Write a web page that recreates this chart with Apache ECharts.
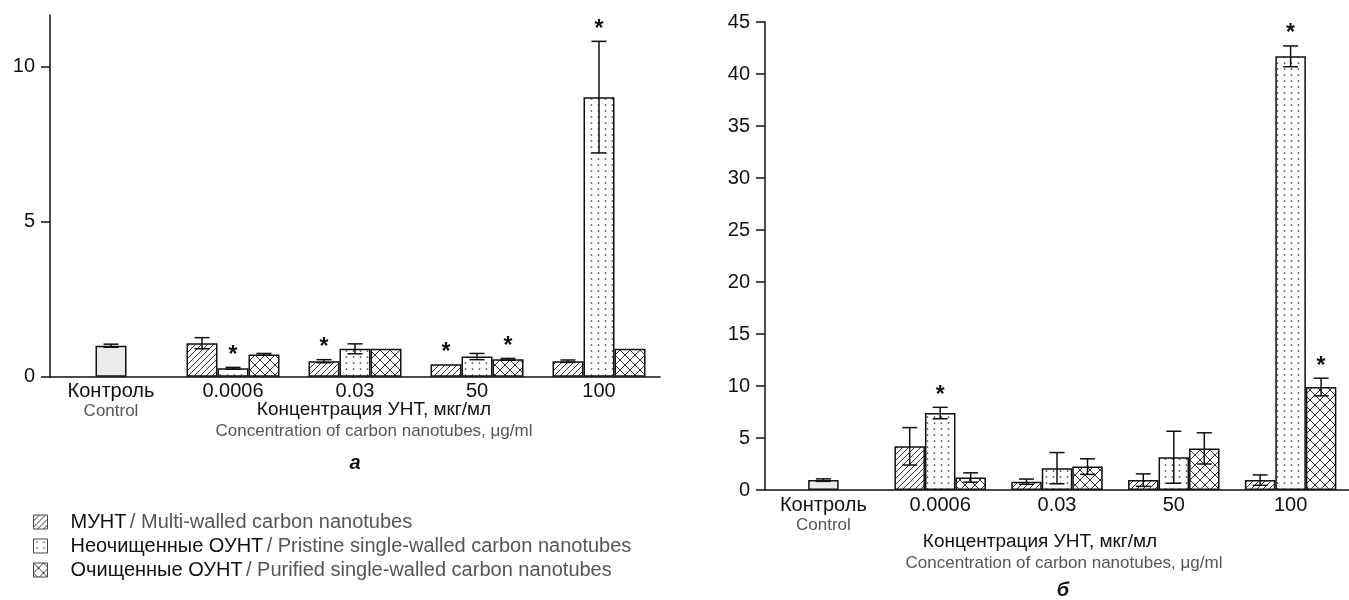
<!DOCTYPE html>
<html><head><meta charset="utf-8">
<script src="https://cdn.jsdelivr.net/npm/echarts@6/dist/echarts.min.js"></script>
<style>html,body{margin:0;padding:0;background:#fff}#c{width:1349px;height:600px}</style>
</head><body><div id="c"></div>
<script>
// ---------- DATA ----------
const categories = ['Контроль', '0.0006', '0.03', '50', '100'];
const seriesNames = [
  'МУНТ / Multi-walled carbon nanotubes',
  'Неочищенные ОУНТ / Pristine single-walled carbon nanotubes',
  'Очищенные ОУНТ / Purified single-walled carbon nanotubes'
];
const yTicksA = [0, 5, 10];
const yTicksB = [0, 5, 10, 15, 20, 25, 30, 35, 40, 45];

// Chart а
const controlA = 1.0, controlErrA = 0.05;
const mwcntA = [1.08, 0.5, 0.4, 0.5];
const mwcntErrA = [0.18, 0.05, 0.0, 0.04];
const pristineA = [0.27, 0.9, 0.65, 9.02];
const pristineErrA = [0.03, 0.16, 0.1, 1.8];
const purifiedA = [0.72, 0.9, 0.56, 0.9];
const purifiedErrA = [0.03, 0.0, 0.03, 0.0];
const mwcntStarA = [0, 1, 1, 0];
const pristineStarA = [1, 0, 0, 1];
const purifiedStarA = [0, 0, 1, 0];

// Chart б
const controlB = 0.95, controlErrB = 0.12;
const mwcntB = [4.2, 0.8, 0.95, 0.95];
const mwcntErrB = [1.8, 0.25, 0.6, 0.5];
const pristineB = [7.4, 2.1, 3.15, 41.7];
const pristineErrB = [0.55, 1.5, 2.5, 1.0];
const purifiedB = [1.2, 2.25, 4.0, 9.9];
const purifiedErrB = [0.45, 0.75, 1.5, 0.85];
const mwcntStarB = [0, 0, 0, 0];
const pristineStarB = [1, 0, 0, 1];
const purifiedStarB = [0, 0, 0, 1];

// ---------- PATTERNS ----------
function makeCanvas(w, h, draw) {
  const c = document.createElement('canvas'); c.width = w; c.height = h;
  const g = c.getContext('2d'); g.fillStyle = '#fff'; g.fillRect(0, 0, w, h);
  draw(g); return c;
}
const hatchCanvas = makeCanvas(6, 6, g => {
  g.strokeStyle = '#333'; g.lineWidth = 1;
  g.beginPath(); g.moveTo(-1, 7); g.lineTo(7, -1);
  g.moveTo(-1, 1); g.lineTo(1, -1); g.moveTo(5, 7); g.lineTo(7, 5); g.stroke();
});
const dotCanvas = makeCanvas(7, 6, g => {
  g.fillStyle = '#333'; g.beginPath(); g.arc(3.5, 3, 0.85, 0, Math.PI * 2); g.fill();
});
const crossCanvas = makeCanvas(10, 10, g => {
  g.strokeStyle = '#333'; g.lineWidth = 1;
  g.beginPath();
  g.moveTo(-1, 11); g.lineTo(11, -1);
  g.moveTo(-1, -1); g.lineTo(11, 11);
  g.stroke();
});
const fills = [
  { image: hatchCanvas, repeat: 'repeat' },
  { image: dotCanvas, repeat: 'repeat' },
  { image: crossCanvas, repeat: 'repeat' }
];

const FONT = '"Liberation Sans", Arial, sans-serif';
const AX = '#111';

function barSeries(k, vals, ctrl, gi, barW) {
  const data = [k === 1 ? { value: ctrl, itemStyle: { color: '#ebebeb' } } : '-'].concat(vals);
  return {
    type: 'bar', name: seriesNames[k], xAxisIndex: gi, yAxisIndex: gi,
    data: data, barWidth: barW, barGap: '0%',
    itemStyle: { color: fills[k], borderColor: '#111', borderWidth: 1.5 },
    silent: true, z: 2
  };
}
function errData(ctrl, ctrlErr, vals, errs, stars) {
  const out = [[0, ctrl, ctrlErr, 1, 0]];
  for (let k = 0; k < 3; k++) for (let i = 0; i < 4; i++) out.push([i + 1, vals[k][i], errs[k][i], k, stars[k][i]]);
  return out;
}
function errSeries(gi, barW, data) {
  return {
    type: 'custom', xAxisIndex: gi, yAxisIndex: gi, silent: true, z: 10, clip: false,
    data: data, encode: { x: 0, y: 1 },
    renderItem: function (params, api) {
      const cat = api.value(0), v = api.value(1), e = api.value(2), k = api.value(3), star = api.value(4);
      const base = api.coord([cat, v]);
      const x = base[0] + (k - 1) * barW;
      const yT = api.coord([cat, v + e])[1];
      const yB = api.coord([cat, Math.max(v - e, 0)])[1];
      const st = { stroke: '#111', lineWidth: 1.5 };
      const ch = [];
      const cap = 7.5;
      if (e > 0) {
        ch.push({ type: 'line', shape: { x1: x, y1: yT, x2: x, y2: yB }, style: st });
        ch.push({ type: 'line', shape: { x1: x - cap, y1: yT, x2: x + cap, y2: yT }, style: st });
        ch.push({ type: 'line', shape: { x1: x - cap, y1: yB, x2: x + cap, y2: yB }, style: st });
      }
      if (star) {
        ch.push({ type: 'text', style: { text: '*', x: x, y: yT - 12, align: 'center', verticalAlign: 'middle',
          font: 'bold 23px ' + FONT, fill: '#111' } });
      }
      return { type: 'group', children: ch };
    }
  };
}

function xAxis(gi) {
  return {
    type: 'category', gridIndex: gi, data: categories,
    axisLine: { lineStyle: { color: AX, width: 1.5 } },
    axisTick: { length: 7, lineStyle: { color: AX, width: 1.5 } },
    axisLabel: {
      margin: 4, interval: 0,
      formatter: (v, i) => i === 0 ? '{ru|' + v + '}\n{en|Control}' : '{ru|' + v + '}',
      rich: {
        ru: { fontFamily: FONT, fontSize: 20, color: '#111', lineHeight: 22 },
        en: { fontFamily: FONT, fontSize: 17, color: '#555', lineHeight: 18 }
      }
    }
  };
}
function yAxis(gi, max, ticks) {
  return {
    type: 'value', gridIndex: gi, min: 0, max: max, interval: 5,
    axisLine: { show: true, lineStyle: { color: AX, width: 1.5 } },
    axisTick: { show: true, length: 9, customValues: ticks, lineStyle: { color: AX, width: 1.5 } },
    axisLabel: { customValues: ticks, margin: 15, fontFamily: FONT, fontSize: 20, color: '#111' },
    splitLine: { show: false }
  };
}

const chart = echarts.init(document.getElementById('c'), null, { renderer: 'canvas' });
chart.setOption({
  animation: false,
  backgroundColor: '#fff',
  grid: [
    { left: 50, top: 15, width: 610, height: 361.7 },
    { left: 765, top: 22, width: 590, height: 468 }
  ],
  xAxis: [xAxis(0), xAxis(1)],
  yAxis: [yAxis(0, 11.67, yTicksA), yAxis(1, 45, yTicksB)],
  legend: {
    orient: 'vertical', left: 28, top: 507, icon: 'rect', itemWidth: 14, itemHeight: 14, itemGap: 4,
    selectedMode: false, data: seriesNames,
    itemStyle: { borderColor: '#444', borderWidth: 1 },
    formatter: name => { const p = name.split(' / '); return '{ru|' + p[0] + '} {en|/ ' + p[1] + '}'; },
    textStyle: {
      padding: [0, 0, 0, 18],
      rich: {
        ru: { fontFamily: FONT, fontSize: 20, color: '#111' },
        en: { fontFamily: FONT, fontSize: 20, color: '#555' }
      }
    }
  },
  series: [
    barSeries(0, mwcntA, controlA, 0, 31),
    barSeries(1, pristineA, controlA, 0, 31),
    barSeries(2, purifiedA, controlA, 0, 31),
    errSeries(0, 31, errData(controlA, controlErrA, [mwcntA, pristineA, purifiedA],
      [mwcntErrA, pristineErrA, purifiedErrA], [mwcntStarA, pristineStarA, purifiedStarA])),
    barSeries(0, mwcntB, controlB, 1, 30.5),
    barSeries(1, pristineB, controlB, 1, 30.5),
    barSeries(2, purifiedB, controlB, 1, 30.5),
    errSeries(1, 30.5, errData(controlB, controlErrB, [mwcntB, pristineB, purifiedB],
      [mwcntErrB, pristineErrB, purifiedErrB], [mwcntStarB, pristineStarB, purifiedStarB]))
  ],
  graphic: [
    { type: 'text', x: 374, y: 410, style: { text: 'Концентрация УНТ, мкг/мл', font: '19px ' + FONT, fill: '#111', align: 'center', verticalAlign: 'middle' } },
    { type: 'text', x: 374, y: 431, style: { text: 'Concentration of carbon nanotubes, μg/ml', font: '17px ' + FONT, fill: '#555', align: 'center', verticalAlign: 'middle' } },
    { type: 'text', x: 355, y: 463, style: { text: 'а', font: 'italic bold 20px ' + FONT, fill: '#111', align: 'center', verticalAlign: 'middle' } },
    { type: 'text', x: 1040, y: 542, style: { text: 'Концентрация УНТ, мкг/мл', font: '19px ' + FONT, fill: '#111', align: 'center', verticalAlign: 'middle' } },
    { type: 'text', x: 1064, y: 563, style: { text: 'Concentration of carbon nanotubes, μg/ml', font: '17px ' + FONT, fill: '#555', align: 'center', verticalAlign: 'middle' } },
    { type: 'text', x: 1063, y: 590, style: { text: 'б', font: 'italic bold 20px ' + FONT, fill: '#111', align: 'center', verticalAlign: 'middle' } }
  ]
});
</script>
</body></html>
